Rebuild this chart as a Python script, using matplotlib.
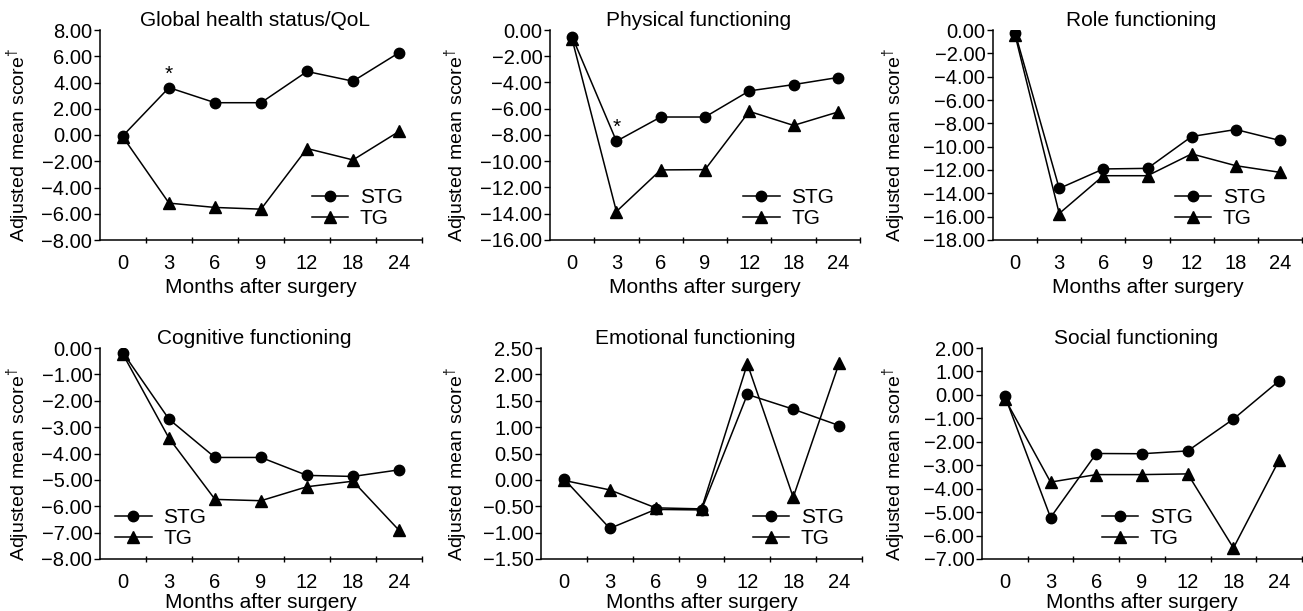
import matplotlib
matplotlib.use("Agg")
import matplotlib.pyplot as plt
from matplotlib.ticker import FuncFormatter, FixedLocator

plt.rcParams['font.family'] = ['Liberation Sans', 'DejaVu Sans']
plt.rcParams['mathtext.fontset'] = 'custom'
plt.rcParams['mathtext.rm'] = 'Liberation Sans'

MONTHS = ["0", "3", "6", "9", "12", "18", "24"]

# panel titles, y ranges and step
TITLES = ["Global health status/QoL", "Physical functioning", "Role functioning",
          "Cognitive functioning", "Emotional functioning", "Social functioning"]
YLIMS = [(-8, 8, 2), (-16, 0, 2), (-18, 0, 2),
         (-8, 0, 1), (-1.5, 2.5, 0.5), (-7, 2, 1)]

STG_GLOBAL = [-0.05, 3.61, 2.46, 2.46, 4.84, 4.10, 6.27]
TG_GLOBAL = [-0.16, -5.19, -5.52, -5.65, -1.03, -1.90, 0.27]
STG_PHYS = [-0.51, -8.47, -6.63, -6.63, -4.64, -4.16, -3.62]
TG_PHYS = [-0.71, -13.83, -10.66, -10.64, -6.20, -7.27, -6.25]
STG_ROLE = [-0.23, -13.58, -11.91, -11.86, -9.13, -8.53, -9.47]
TG_ROLE = [-0.43, -15.73, -12.49, -12.49, -10.62, -11.63, -12.20]
STG_COG = [-0.18, -2.70, -4.15, -4.15, -4.83, -4.87, -4.62]
TG_COG = [-0.24, -3.42, -5.74, -5.79, -5.26, -5.05, -6.91]
STG_EMO = [0.02, -0.92, -0.56, -0.57, 1.62, 1.34, 1.03]
TG_EMO = [-0.01, -0.19, -0.53, -0.55, 2.20, -0.33, 2.21]
STG_SOC = [-0.05, -5.23, -2.50, -2.51, -2.39, -1.03, 0.60]
TG_SOC = [-0.16, -3.72, -3.40, -3.40, -3.37, -6.53, -2.78]

STG = [STG_GLOBAL, STG_PHYS, STG_ROLE, STG_COG, STG_EMO, STG_SOC]
TG = [TG_GLOBAL, TG_PHYS, TG_ROLE, TG_COG, TG_EMO, TG_SOC]
STARS = [1, 1, None, None, None, None]   # index of month with significance mark

# axes boxes in pixels: left, top, right, bottom
BOXES = [(100, 30, 422, 240), (550, 30, 860, 240), (993, 30, 1302, 240),
         (100, 348, 422, 559), (541, 348, 862, 559), (982, 348, 1302, 559)]
# legend anchor (axes fraction) and y label offset (px from left spine)
LEGEND_POS = [(0.658, 0.055), (0.623, 0.055), (0.589, 0.055),
              (0.047, 0.05), (0.660, 0.05), (0.375, 0.05)]
YLAB_OFF = [-68, -80, -85, -68, -71, -74]
XLAB_PAD = [3.5, 3.5, 3.5, 0.5, 0.5, 0.5]

FS = 15      # titles, axis labels, legend
FS_TICK = 14.5
FS_YLAB = 14
W, H = 1303, 611
fig = plt.figure(figsize=(W / 100, H / 100), dpi=100)

fmt = FuncFormatter(lambda v, p: ("%.2f" % v).replace("-", "\u2212"))
x = list(range(len(MONTHS)))

for i in range(6):
    l, t, r, b = BOXES[i]
    ax = fig.add_axes([l / W, 1 - b / H, (r - l) / W, (b - t) / H])
    ax.plot(x, STG[i], '-o', color='black', lw=1.1, ms=7.5, label='STG')
    ax.plot(x, TG[i], '-^', color='black', lw=1.1, ms=8, label='TG')
    lo, hi, step = YLIMS[i]
    ax.set_ylim(lo, hi)
    nt = int(round((hi - lo) / step))
    ax.yaxis.set_major_locator(FixedLocator([lo + k * step for k in range(nt + 1)]))
    ax.yaxis.set_major_formatter(fmt)
    ax.set_xlim(-0.5, 6.5)
    ax.set_xticks(x)
    ax.set_xticklabels(MONTHS)
    ax.set_xticks([k + 0.5 for k in x], minor=True)
    ax.tick_params(axis='x', which='major', length=0, pad=10, labelsize=FS_TICK)
    ax.tick_params(axis='x', which='minor', length=5, direction='inout', width=1)
    ax.tick_params(axis='y', length=4, width=1, pad=1.5, labelsize=FS_TICK)
    for s in ['top', 'right']:
        ax.spines[s].set_visible(False)
    for s in ['left', 'bottom']:
        ax.spines[s].set_linewidth(1.1)
    ax.set_xlabel("Months after surgery", fontsize=FS, labelpad=XLAB_PAD[i])
    ax.set_ylabel("$\\mathregular{Adjusted\\ mean\\ score^{\\dagger}}$", fontsize=FS_YLAB)
    ax.yaxis.set_label_coords(YLAB_OFF[i] / (r - l), 0.45)
    ax.set_title(TITLES[i], fontsize=FS, pad=1.5, x=0.48)
    if STARS[i] is not None:
        k = STARS[i]
        ax.annotate("*", (k, STG[i][k]), xytext=(0, 3), textcoords='offset points',
                    ha='center', va='bottom', fontsize=FS)
    ax.legend(loc='lower left', bbox_to_anchor=LEGEND_POS[i], frameon=False,
              fontsize=FS, handlelength=1.75, handletextpad=0.55,
              labelspacing=0.12, borderpad=0, borderaxespad=0)

fig.savefig("out.png", dpi=100)
